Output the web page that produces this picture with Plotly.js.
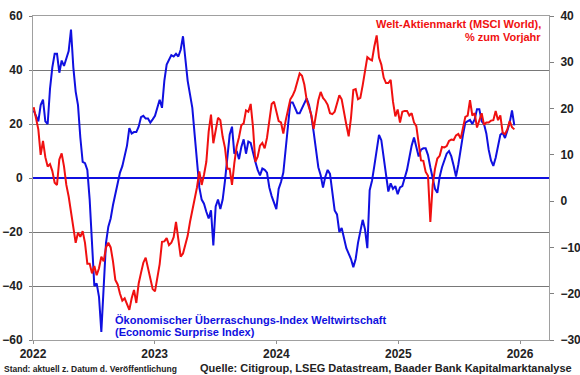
<!DOCTYPE html>
<html>
<head>
<meta charset="utf-8">
<script src="https://cdn.plot.ly/plotly-3.0.1.min.js"></script>
<style>
  html, body { margin: 0; padding: 0; background: #fff; }
  #chart { width: 580px; height: 375px; }
</style>
</head>
<body>
<div id="chart"></div>
<script>
// Weekly observations, first week starting 2022-01-03
const startDate = '2022-01-03';
const stepDays = 7;

// Citi Economic Surprise Index (global), left axis
const surpriseIndex = [
  25, 23, 21, 27, 29, 21, 20, 33, 41, 46,
  46, 39, 43.5, 41.5, 44, 47, 55, 41, 32, 27,
  15, 6, 5.5, 3, -8, -24, -40, -39, -44, -57,
  -40, -24, -18, -15, -10, -6, -3, 2, 4.4, 8,
  12, 18.5, 16.5, 17, 17, 19, 22.5, 23, 22, 22,
  20.5, 21.7, 23, 26, 29, 26, 36, 42, 43.5, 45.5,
  45, 46, 45, 47.5, 52.5, 45, 36, 31, 26, 16,
  5, -3.5, -8, -9.5, -12.5, -15, -12, -25, -10.5, -8,
  -11.5, -8, -1, 8, 16, 19, 9, 10, 7, 11.5,
  14.3, 9, 13.5, 13, 9, 6, 3, 1, 3.5, 3,
  2, -3.5, -6.7, -9.5, -11.5, -4, -1.5, 2, 11, 21,
  28, 28, 26, 24, 24, 26, 28, 29.5, 27, 23,
  17, 10, 4, 1, -3.5, 0.5, 3, 1.5, -6, -12,
  -13.5, -20, -18.5, -22.5, -26, -28, -30, -33, -30, -24,
  -20, -15.5, -19, -26, -4.5, -1, 4.5, 11, 16, 14,
  8, 1, -5, -2, -4, -3, -6, -3.5, -3, 0,
  3, 7.5, 12, 15, 12, 8, 10.5, 11, 11, 8.5,
  4, -0.6, -4, -5.5, 0.5, 4, 6.5, 9, 10, 8,
  4.5, 0.5, 5, 11, 16, 20.5, 21, 21.5, 20, 21.7,
  25.5, 25.5, 21, 20, 16.5, 10.5, 6.5, 4.5, 7.5, 12,
  16, 16.7, 14.8, 17.5, 20.5, 25, 19.5
];

// MSCI World, % year on year, right axis
const msciWorldYoY = [
  20.3, 17.5, 15.5, 10, 13, 9.5, 7.5, 8, 6.5, 4,
  3.5, 9, 10.3, 7.5, 3.5, 1, -2.3, -5.5, -9, -6.8,
  -7.7, -6.5, -9, -13.5, -13.5, -15.6, -14, -16, -14.5, -12,
  -13, -10, -9, -10, -13, -17, -18, -20, -21.5, -21,
  -22.5, -23.5, -21, -19.2, -22, -17.8, -15.5, -13.3, -12.2, -14.5,
  -16.3, -19, -19.5, -16.3, -13.6, -8.8, -8.7, -8, -9.5, -9,
  -7.8, -4.5, -8.5, -12, -11.3, -9.3, -7.5, -4.5, -2.2, 0.3,
  3, 6.4, 3.5, 5.7, 8.5, 15, 18.7, 12.5, 15.5, 18,
  17.5, 13.9, 11.5, 7, 7, 3.5, 8.2, 11.8, 13.8, 16.4,
  16.8, 19.6, 19.3, 21, 16, 8.5, 9.6, 12, 12.6, 11.4,
  13.7, 17.6, 21, 21.5, 19.5, 17.3, 17, 14.6, 17.4, 19.4,
  22, 22.8, 24, 25.8, 27.6, 27.1, 25.2, 21.9, 20.2, 18.6,
  15.6, 18.5, 21.8, 23.6, 22.3, 21.7, 20.8, 19, 18.8, 19.3,
  21.2, 22.9, 22, 19, 16.5, 14, 18, 24, 24.2, 22,
  22.3, 25, 28.6, 31.1, 30.7, 30.4, 33.4, 35.8, 31, 29.5,
  26.7, 25.5, 25.5, 26.2, 21.5, 18.3, 19.8, 17, 19.3, 19.5,
  19.5, 18.5, 19, 17, 16.2, 12.3, 8.8, 8.7, 6.3, 5.5,
  -4.5, 3.5, 7, 9.2, 9.8, 11.7, 11.6, 11.9, 13, 13.3,
  13.2, 14.2, 14.5, 13.5, 16, 18.2, 18.5, 21.8, 18.5, 19,
  15.9, 17.3, 19, 16.5, 17, 17, 17.4, 17.5, 19.5, 17.5,
  18.5, 14.8, 14.5, 15.5, 17.3, 16, 15.5
];

const yearTicks = ['2022-01-01', '2023-01-01', '2024-01-01', '2025-01-01', '2026-01-01'];
const yearLabels = ['2022', '2023', '2024', '2025', '2026'];

function buildDates(start, step, n) {
  const out = [];
  const t0 = Date.parse(start + 'T00:00:00Z');
  for (let i = 0; i < n; i++) {
    out.push(new Date(t0 + i * step * 86400000).toISOString().slice(0, 10));
  }
  return out;
}
const datesSurprise = buildDates(startDate, stepDays, surpriseIndex.length);
const datesMsci = buildDates(startDate, stepDays, msciWorldYoY.length);

const FONT = 'Liberation Sans, Arial, sans-serif';
const BLUE = '#1010e0';
const RED = '#f01010';

const traces = [
  {
    x: datesSurprise, y: surpriseIndex, type: 'scatter', mode: 'lines',
    line: { color: BLUE, width: 2 }, yaxis: 'y', hoverinfo: 'skip'
  },
  {
    x: datesMsci, y: msciWorldYoY, type: 'scatter', mode: 'lines',
    line: { color: RED, width: 2 }, yaxis: 'y2', hoverinfo: 'skip'
  }
];

function px2paperX(px) { return (px - 33) / 516; }
function px2paperY(py) { return (340 - py) / 324; }

const annotations = [
  { text: '<b>Welt-Aktienmarkt (MSCI World),</b>', x: px2paperX(543), y: px2paperY(24),
    xanchor: 'right', yanchor: 'middle', font: { color: RED, size: 11, family: FONT } },
  { text: '<b>% zum Vorjahr</b>', x: px2paperX(543), y: px2paperY(37.5),
    xanchor: 'right', yanchor: 'middle', font: { color: RED, size: 11, family: FONT } },
  { text: '<b>Ökonomischer Überraschungs-Index Weltwirtschaft</b>', x: px2paperX(113), y: px2paperY(320),
    xanchor: 'left', yanchor: 'middle', font: { color: BLUE, size: 11, family: FONT } },
  { text: '<b>(Economic Surprise Index)</b>', x: px2paperX(113), y: px2paperY(331.5),
    xanchor: 'left', yanchor: 'middle', font: { color: BLUE, size: 11, family: FONT } },
  { text: '<b>Stand: aktuell z. Datum d. Veröffentlichung</b>', x: px2paperX(2), y: px2paperY(368.5),
    xanchor: 'left', yanchor: 'middle', font: { color: '#222', size: 8.5, family: FONT } },
  { text: '<b>Quelle: Citigroup, LSEG Datastream, Baader Bank Kapitalmarktanalyse</b>', x: px2paperX(574), y: px2paperY(368),
    xanchor: 'right', yanchor: 'middle', font: { color: '#222', size: 11, family: FONT } }
].map(a => Object.assign({ xref: 'paper', yref: 'paper', showarrow: false }, a));

const layout = {
  width: 580, height: 375,
  margin: { l: 33, r: 31, t: 16, b: 35, pad: 0 },
  paper_bgcolor: '#ffffff', plot_bgcolor: '#ffffff',
  showlegend: false,
  font: { family: FONT, color: '#222' },
  xaxis: {
    type: 'date',
    range: ['2022-01-01', '2026-03-29'],
    tickvals: yearTicks, ticktext: yearLabels,
    ticks: 'outside', ticklen: 3, tickcolor: '#909090',
    showgrid: false, zeroline: false,
    showline: true, linecolor: '#a0a0a0', linewidth: 1, mirror: true,
    tickfont: { size: 12, weight: 700, family: FONT, color: '#222' }
  },
  yaxis: {
    range: [-60, 60], tickvals: [-60, -40, -20, 0, 20, 40, 60],
    ticks: 'outside', ticklen: 3, tickcolor: '#808080',
    showgrid: true, gridcolor: '#787878', gridwidth: 1,
    zeroline: true, zerolinecolor: BLUE, zerolinewidth: 2,
    showline: true, linecolor: '#a0a0a0', linewidth: 1,
    tickfont: { size: 12, weight: 700, family: FONT, color: '#222' },
    ticklabelstandoff: 4
  },
  yaxis2: {
    range: [-30, 40], tickvals: [-30, -20, -10, 0, 10, 20, 30, 40],
    overlaying: 'y', side: 'right',
    ticks: 'outside', ticklen: 4, tickcolor: '#808080',
    showgrid: false, zeroline: false,
    showline: true, linecolor: '#a0a0a0', linewidth: 1,
    tickfont: { size: 12, weight: 700, family: FONT, color: '#222' },
    ticklabelstandoff: 4
  },
  annotations: annotations
};

Plotly.newPlot('chart', traces, layout, { staticPlot: true, displayModeBar: false });
</script>
</body>
</html>
